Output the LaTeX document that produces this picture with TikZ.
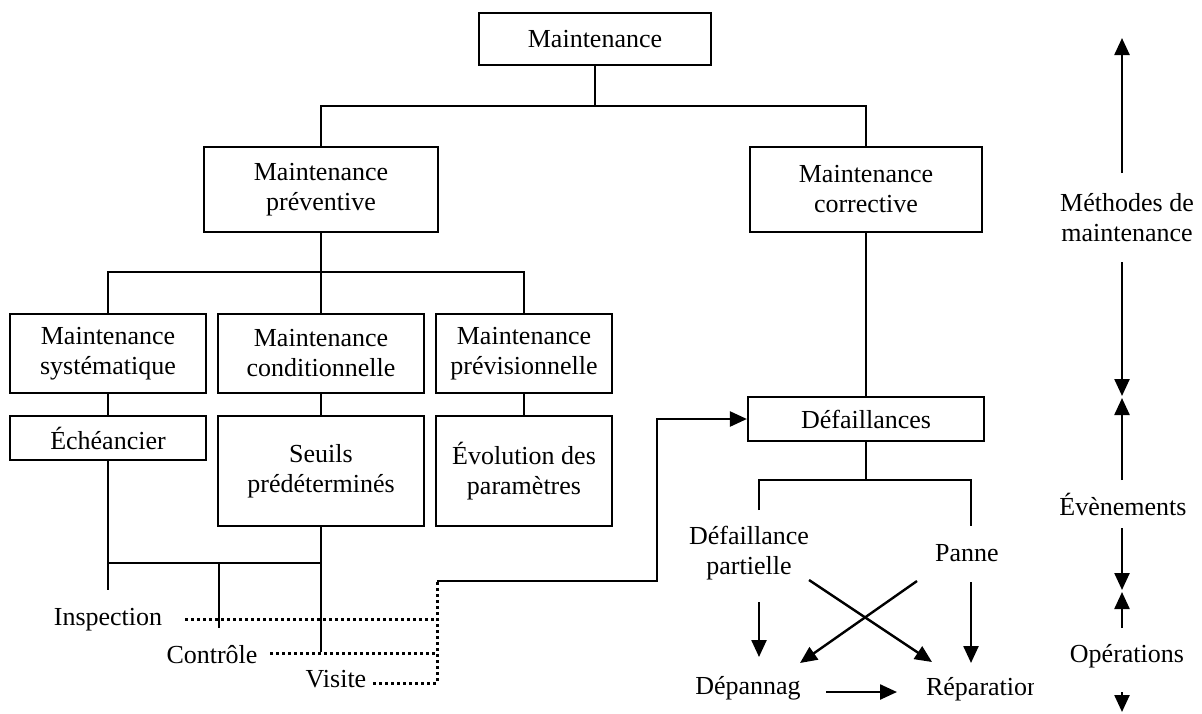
\documentclass[tikz,border=0pt]{standalone}
\usepackage{fontspec}
\setmainfont{Liberation Serif}
\usetikzlibrary{arrows.meta}
\begin{document}
\begin{tikzpicture}[x=1pt,y=-1pt, line width=2.2pt,
 every node/.style={font=\fontsize{26}{30}\selectfont, inner sep=0pt},
 box/.style={draw, align=center},
 lbl/.style={align=center},
 arr/.style={line width=2.4pt,-{Triangle[length=17pt,width=15pt]}},
 dots/.style={line width=3pt, dash pattern=on 3pt off 3pt}]
\useasboundingbox (0,0) rectangle (1202,713);
% boxes
\node[box, minimum width=232pt, minimum height=52pt] (M) at (595,39) {Maintenance};
\node[box, minimum width=234pt, minimum height=85pt] (prev) at (321,189.5) {Maintenance\\préventive};
\node[box, minimum width=232pt, minimum height=85pt] (corr) at (866,189.5) {Maintenance\\corrective};
\node[box, minimum width=196pt, minimum height=79pt] (sys) at (108,353.5) {Maintenance\\systématique};
\node[box, minimum width=206pt, minimum height=79pt] (cond) at (321,353.5) {Maintenance\\conditionnelle};
\node[box, minimum width=176pt, minimum height=79pt] (previs) at (524,353.5) {Maintenance\\prévisionnelle};
\node[box, minimum width=196pt, minimum height=44pt] (ech) at (108,438) {Échéancier};
\node[box, minimum width=206pt, minimum height=110pt] (seuils) at (321,471) {Seuils\\prédéterminés};
\node[box, minimum width=176pt, minimum height=110pt] (evol) at (524,471) {Évolution des\\paramètres};
\node[box, minimum width=236pt, minimum height=44pt] (def) at (866,419) {Défaillances};
% plain labels
\node[anchor=base] (insp) at (108,625) {Inspection};
\node[anchor=base] (ctrl) at (212,663) {Contrôle};
\node[anchor=base] (vis) at (336,687) {Visite};
\node[lbl] (dp) at (749,553) {Défaillance\\partielle};
\node[anchor=base] (panne) at (967,561) {Panne};
\node[anchor=base] (depan) at (748,694) {Dépannag};
\begin{scope}
\clip (900,600) rectangle (1033,713);
\node[anchor=base west] (repar) at (925,695) {Réparation};
\end{scope}
\node[lbl] (meth) at (1127,218) {Méthodes de\\maintenance};
\node[anchor=base] (even) at (1123,515) {Évènements};
\node[anchor=base] (oper) at (1127,662) {Opérations};
% tree connectors
\coordinate (j1) at (595,106);
\draw (M.south) -- (j1);
\draw (prev.north) |- (j1) -| (corr.north);
\coordinate (j2) at (321,272);
\draw (prev.south) -- (j2);
\draw (sys.north) |- (j2) -| (previs.north);
\draw (cond.north) -- (j2);
\draw (sys.south) -- (ech.north);
\draw (cond.south) -- (seuils.north);
\draw (previs.south) -- (evol.north);
\draw (corr.south) -- (def.north);
% bottom left
\coordinate (h1) at (108,563);
\coordinate (h2) at (219,563);
\coordinate (h3) at (321,563);
\coordinate (e1) at (108,590);
\coordinate (e2) at (219,628);
\coordinate (e3) at (321,652);
\draw (ech.south) -- (e1);
\draw (h1) -- (h3);
\draw (h2) -- (e2);
\draw (seuils.south) -- (e3);
% dotted
\coordinate (ia) at (185,619); \coordinate (ib) at (437,619);
\coordinate (ca) at (270,653); \coordinate (cb) at (437,653);
\coordinate (va) at (373,683); \coordinate (vb) at (437,683);
\coordinate (tb) at (437,581); \coordinate (tc) at (657,581);
\draw[dots] (ia) -- (ib);
\draw[dots] (ca) -- (cb);
\draw[dots] (va) -- (vb) -- (tb);
\draw[arr] (tb) -- (tc) |- (def.west);
% bottom right
\coordinate (k) at (866,480);
\coordinate (kl) at (759,480); \coordinate (kr) at (971,480);
\coordinate (kle) at (759,510); \coordinate (kre) at (971,526);
\draw (def.south) -- (k);
\draw (kle) -- (kl) -- (kr) -- (kre);
\coordinate (p1) at (759,602); \coordinate (p2) at (759,657);
\coordinate (q1) at (971,582); \coordinate (q2) at (971,663);
\coordinate (r1) at (809,580); \coordinate (r2) at (932,662);
\coordinate (s1) at (917,581); \coordinate (s2) at (800,663);
\coordinate (t1) at (826,692); \coordinate (t2) at (897,692);
\draw[arr] (p1) -- (p2);
\draw[arr] (q1) -- (q2);
\draw[arr] (r1) -- (r2);
\draw[arr] (s1) -- (s2);
\draw[arr] (t1) -- (t2);
% right axis
\coordinate (a1) at (1122,173); \coordinate (a2) at (1122,38);
\coordinate (b1) at (1122,262); \coordinate (b2) at (1122,396);
\coordinate (c1) at (1122,480); \coordinate (c2) at (1122,398);
\coordinate (d1) at (1122,528); \coordinate (d2) at (1122,590);
\coordinate (f1) at (1122,628); \coordinate (f2) at (1122,592);
\coordinate (g1) at (1122,692); \coordinate (g2) at (1122,712);
\draw[arr] (a1) -- (a2);
\draw[arr] (b1) -- (b2);
\draw[arr] (c1) -- (c2);
\draw[arr] (d1) -- (d2);
\draw[arr] (f1) -- (f2);
\draw[arr] (g1) -- (g2);
\end{tikzpicture}
\end{document}
